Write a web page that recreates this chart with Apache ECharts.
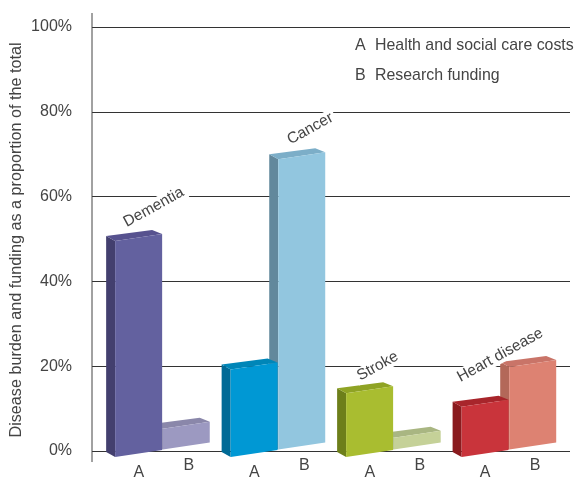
<!DOCTYPE html>
<html><head><meta charset="utf-8">
<script src="https://cdn.jsdelivr.net/npm/echarts@6/dist/echarts.min.js"></script>
<style>html,body{margin:0;padding:0;background:#fff}#c{width:576px;height:477px}</style>
</head><body><div id="c"></div>
<script>
const diseases = ['Dementia', 'Cancer', 'Stroke', 'Heart disease'];
const healthCosts = [50.7, 20.4, 14.8, 11.6];
const researchFunding = [6.4, 70, 4.3, 21];
const yTicks = ['0%', '20%', '40%', '60%', '80%', '100%'];
const faceA = [['#63619f', '#433f6e', '#57528f'], ['#0098d4', '#006a96', '#0086b8'], ['#a9bd30', '#6d7f1a', '#8fa324'], ['#c9343b', '#8a1b1e', '#a8252b']];
const faceB = [['#9c99c1', '#77749b', '#8a87aa'], ['#92c6df', '#62889c', '#7caec8'], ['#c5d198', '#9aa878', '#a9b682'], ['#dd8272', '#b36859', '#c97468']];
const labelValues = [57.5, 76, 20, 22.6];
const labelShift = [4, 45, -3, 4];
const FONT = '"Liberation Sans", Arial, sans-serif';
const TXT = '#444';

function barRenderer(slotX, baseLift, faces, letter, letterX, letterY) {
  return function (params, api) {
    const g = api.value(0), v = api.value(1);
    const top = api.coord([g, v]), zero = api.coord([g, 0]);
    const x0 = top[0] + slotX, py = top[1], by = zero[1] + 1 - baseLift;
    const d = 9, w = 47, sl = 7, dy = 5;
    const c = faces[g];
    const poly = (pts, fill) => ({ type: 'polygon', shape: { points: pts }, style: { fill: fill } });
    return { type: 'group', children: [
      poly([[x0, py], [x0 + d, py + dy], [x0 + d, by + dy], [x0, by]], c[1]),
      poly([[x0, py], [x0 + w - 1, py - sl + 1], [x0 + d + w, py + dy - sl], [x0 + d, py + dy]], c[2]),
      poly([[x0 + d, py + dy], [x0 + d + w, py + dy - sl], [x0 + d + w, by + dy - sl], [x0 + d, by + dy]], c[0]),
      { type: 'text', x: top[0] + letterX, y: zero[1] + letterY, style: { text: letter, font: '16px ' + FONT, fill: TXT, align: 'center', verticalAlign: 'middle' } }
    ] };
  };
}

const chart = echarts.init(document.getElementById('c'), null, { renderer: 'canvas' });
chart.setOption({
  animation: false,
  backgroundColor: '#fff',
  grid: { left: 92, right: 6, top: 27, bottom: 26 },
  xAxis: { type: 'value', min: -0.5, max: 3.639, show: false },
  yAxis: {
    type: 'value', min: 0, max: 100, interval: 20,
    axisLine: { show: false },
    axisTick: { show: true, length: 14, lineStyle: { color: '#333', width: 1 } },
    axisLabel: { margin: 20, fontFamily: FONT, fontSize: 16, color: TXT, formatter: (v) => yTicks[v / 20] },
    splitLine: { show: true, lineStyle: { color: '#333', width: 1 } }
  },
  graphic: [
    { type: 'text', x: 17, y: 240, rotation: Math.PI / 2, style: { text: 'Disease burden and funding as a proportion of the total', font: '16.2px ' + FONT, fill: TXT, align: 'center', verticalAlign: 'middle' } },
    { type: 'text', x: 355, y: 46, style: { text: 'A', font: '16px ' + FONT, fill: TXT, verticalAlign: 'middle' } },
    { type: 'text', x: 375, y: 46, style: { text: 'Health and social care costs', font: '15.9px ' + FONT, fill: TXT, verticalAlign: 'middle' } },
    { type: 'text', x: 355, y: 76, style: { text: 'B', font: '16px ' + FONT, fill: TXT, verticalAlign: 'middle' } },
    { type: 'text', x: 375, y: 76, style: { text: 'Research funding', font: '15.9px ' + FONT, fill: TXT, verticalAlign: 'middle' } }
  ],
  series: [
    { type: 'custom', name: 'axis', z: 3, silent: true, data: [[-0.5, -2.6, 103.3]],
      encode: { x: 0, y: [1, 2] },
      renderItem: (p, api) => {
        const a = api.coord([api.value(0), api.value(1)]), b = api.coord([api.value(0), api.value(2)]);
        return { type: 'line', shape: { x1: a[0], y1: a[1], x2: b[0], y2: b[1] }, style: { stroke: '#444', lineWidth: 1 } };
      } },
    { type: 'custom', name: 'Research funding', z: 4, silent: true,
      data: researchFunding.map((v, i) => [i, v]), encode: { x: 0, y: 1 },
      renderItem: barRenderer(4, 7.5, faceB, 'B', 39, 15) },
    { type: 'custom', name: 'Health and social care costs', z: 5, silent: true,
      data: healthCosts.map((v, i) => [i, v]), encode: { x: 0, y: 1 },
      renderItem: barRenderer(-43.6, 0, faceA, 'A', -11, 22) },
    { type: 'custom', name: 'labels', z: 6, silent: true,
      data: labelValues.map((v, i) => [i, v]), encode: { x: 0, y: 1 },
      renderItem: (p, api) => {
        const g = api.value(0), c = api.coord([g, api.value(1)]);
        return { type: 'text', x: c[0] + labelShift[g], y: c[1], rotation: 29 * Math.PI / 180,
          style: { text: diseases[g], font: '15.5px ' + FONT, fill: TXT, align: 'center', verticalAlign: 'middle', backgroundColor: '#fff', padding: [0, 3] } };
      } }
  ]
});
</script></body></html>
